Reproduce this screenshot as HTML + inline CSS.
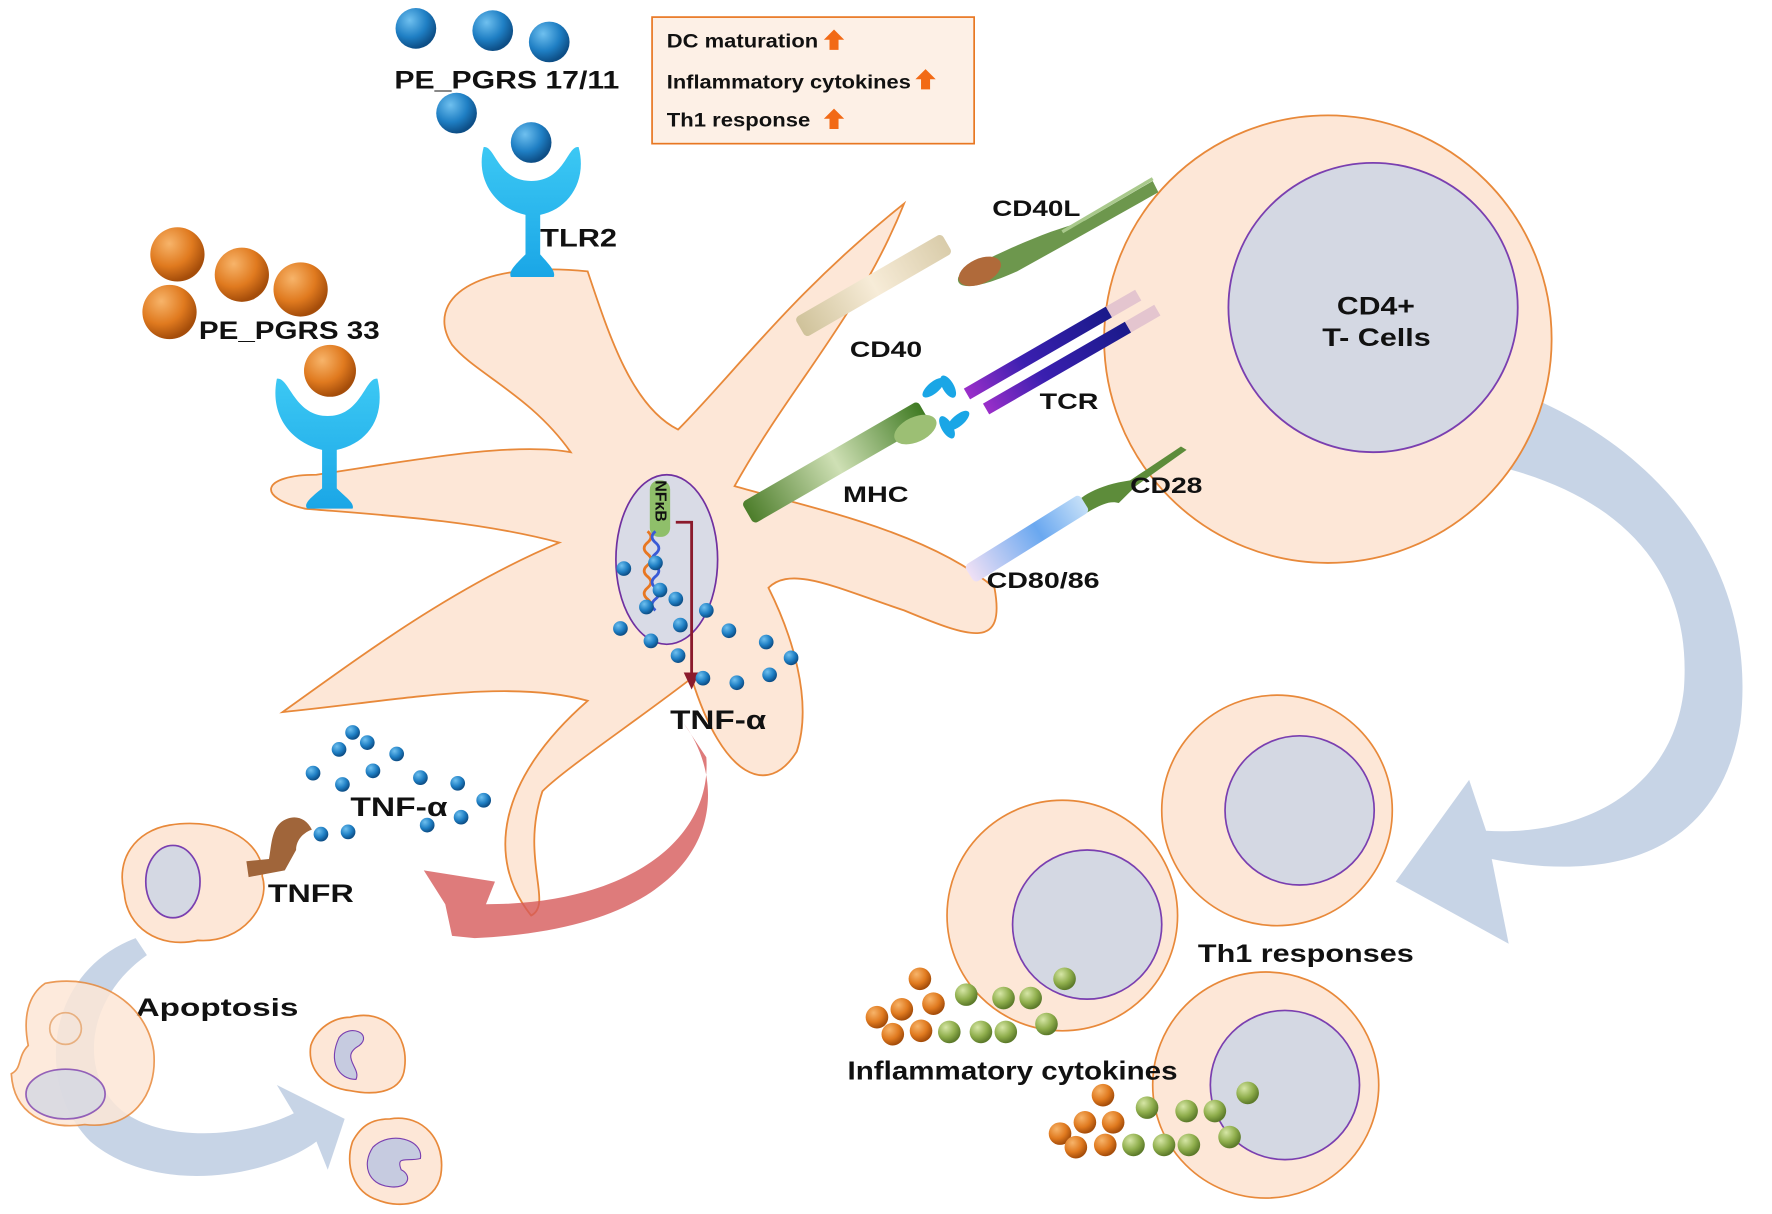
<!DOCTYPE html>
<html><head><meta charset="utf-8"><style>
html,body{margin:0;padding:0;background:#fff}
svg{display:block}
text{font-family:"Liberation Sans",sans-serif;font-weight:bold;fill:#111}
</style></head><body>
<svg width="1772" height="1214" viewBox="0 0 1568 1074" xmlns="http://www.w3.org/2000/svg">
<defs>
<radialGradient id="bb" cx="35%" cy="30%" r="70%"><stop offset="0" stop-color="#6fc0ef"/><stop offset="0.6" stop-color="#1f7fc4"/><stop offset="1" stop-color="#0d4e86"/></radialGradient>
<radialGradient id="ob" cx="35%" cy="30%" r="70%"><stop offset="0" stop-color="#f7b46a"/><stop offset="0.6" stop-color="#e07a1f"/><stop offset="1" stop-color="#a54d0a"/></radialGradient>
<radialGradient id="gb" cx="35%" cy="30%" r="70%"><stop offset="0" stop-color="#d6e6a6"/><stop offset="0.6" stop-color="#8fae4c"/><stop offset="1" stop-color="#5c7a2a"/></radialGradient>
<linearGradient id="cyan" x1="0" y1="0" x2="0" y2="1"><stop offset="0" stop-color="#3cc8f4"/><stop offset="1" stop-color="#1aa6e6"/></linearGradient>
<linearGradient id="grn" x1="0" y1="0" x2="1" y2="0"><stop offset="0" stop-color="#4c7d2a"/><stop offset="0.5" stop-color="#cfe0b5"/><stop offset="1" stop-color="#3f7a22"/></linearGradient>
<linearGradient id="cd40" x1="0" y1="0" x2="1" y2="0"><stop offset="0" stop-color="#cfc29a"/><stop offset="0.5" stop-color="#f7ecd8"/><stop offset="1" stop-color="#d9ccaa"/></linearGradient>
<linearGradient id="tcr" x1="0" y1="0" x2="1" y2="0"><stop offset="0" stop-color="#9b2fc9"/><stop offset="0.4" stop-color="#3a1fb0"/><stop offset="1" stop-color="#1a1a8a"/></linearGradient>
<linearGradient id="cd80" x1="0" y1="0" x2="1" y2="0"><stop offset="0" stop-color="#efe0f5"/><stop offset="0.6" stop-color="#6aa8f0"/><stop offset="1" stop-color="#c6e0f8"/></linearGradient>
<g id="b"><circle r="6.5" fill="url(#bb)"/></g>
</defs>

<path d="M1230,320 C1420,340 1560,470 1540,640 C1520,760 1420,780 1320,760 L1335,835 L1235,780 L1300,690 L1315,735 C1400,740 1480,700 1490,610 C1500,480 1400,410 1240,400 Z" fill="#b4c6dd" opacity="0.75"/>

<rect x="577" y="15" width="285" height="112" fill="#fdf0e6" stroke="#e87722" stroke-width="1.5"/>
<text x="590" y="42" font-size="17" textLength="134" lengthAdjust="spacingAndGlyphs">DC maturation</text>
<text x="590" y="78" font-size="17" textLength="216" lengthAdjust="spacingAndGlyphs">Inflammatory cytokines</text>
<text x="590" y="112" font-size="17" textLength="127" lengthAdjust="spacingAndGlyphs">Th1 response</text>
<g fill="#f26a16"><path d="M738,26 l9,9 h-5 v9 h-8 v-9 h-5 z"/><path d="M819,61 l9,9 h-5 v9 h-8 v-9 h-5 z"/><path d="M738,96 l9,9 h-5 v9 h-8 v-9 h-5 z"/></g>

<path d="M520,240 C540,300 560,360 600,380 C650,330 700,260 800,180 C760,280 700,340 650,430 C720,450 820,470 880,520 C890,575 860,565 800,540 C740,520 700,500 680,520 C700,560 720,620 705,665 C680,705 640,690 612,600 C560,640 500,680 480,700 C460,760 490,800 470,810 C430,760 440,690 520,620 C450,600 350,620 250,630 C320,580 400,520 495,480 C420,460 330,455 270,450 C225,440 232,420 280,420 C350,410 450,390 505,400 C470,350 420,330 400,305 C375,265 420,230 520,240 Z" fill="#fde7d7" stroke="#e8893a" stroke-width="1.6"/>

<path d="M428,130 C420,160 440,185 465,190 L465,225 C455,235 450,240 452,245 L490,245 C492,240 486,234 478,225 L478,190 C503,185 520,160 512,130 C502,128 500,160 470,160 C440,160 438,128 428,130 Z" fill="url(#cyan)"/>
<path d="M245,335 C238,370 260,392 285,398 L285,432 C275,440 268,446 272,450 L312,450 C314,445 306,440 298,432 L298,398 C325,392 342,370 334,335 C323,333 320,368 290,368 C260,368 256,333 245,335 Z" fill="url(#cyan)"/>

<circle cx="368" cy="25" r="18" fill="url(#bb)"/><circle cx="436" cy="27" r="18" fill="url(#bb)"/><circle cx="486" cy="37" r="18" fill="url(#bb)"/><circle cx="404" cy="100" r="18" fill="url(#bb)"/><circle cx="470" cy="126" r="18" fill="url(#bb)"/>
<text x="349" y="78" font-size="22" textLength="199" lengthAdjust="spacingAndGlyphs">PE_PGRS 17/11</text>
<text x="478" y="218" font-size="22" textLength="68" lengthAdjust="spacingAndGlyphs">TLR2</text>
<circle cx="157" cy="225" r="24" fill="url(#ob)"/><circle cx="214" cy="243" r="24" fill="url(#ob)"/><circle cx="266" cy="256" r="24" fill="url(#ob)"/><circle cx="150" cy="276" r="24" fill="url(#ob)"/><circle cx="292" cy="328" r="23" fill="url(#ob)"/>
<text x="176" y="300" font-size="22" textLength="160" lengthAdjust="spacingAndGlyphs">PE_PGRS 33</text>

<circle cx="1175" cy="300" r="198" fill="#fde7d7" stroke="#e8893a" stroke-width="1.6"/>
<circle cx="1215" cy="272" r="128" fill="#d4d8e3" stroke="#7a3fb0" stroke-width="1.6"/>
<text x="1183" y="278" font-size="22" textLength="69" lengthAdjust="spacingAndGlyphs">CD4+</text>
<text x="1170" y="306" font-size="22" textLength="96" lengthAdjust="spacingAndGlyphs">T- Cells</text>

<g transform="rotate(-30 760 260)"><rect x="700" y="250" width="150" height="20" rx="4" fill="url(#cd40)"/></g>
<path d="M1020,160 L960,195 L930,205 C890,220 860,235 848,245 C845,255 860,258 900,240 L945,215 L1025,170 Z" fill="#5d8c3a" opacity="0.9"/>
<path d="M1020,158 L940,205" stroke="#a9c98c" stroke-width="3"/>
<ellipse cx="867" cy="240" rx="20" ry="11" fill="#b06a3a" transform="rotate(-25 867 240)"/>
<text x="878" y="191" font-size="20" textLength="78" lengthAdjust="spacingAndGlyphs">CD40L</text>
<text x="752" y="316" font-size="20" textLength="64" lengthAdjust="spacingAndGlyphs">CD40</text>

<g transform="rotate(-30 920 320)"><rect x="850" y="307" width="145" height="11" fill="url(#tcr)"/><rect x="858" y="327" width="145" height="11" fill="url(#tcr)"/><rect x="995" y="307" width="30" height="11" fill="#d9b7cc" opacity="0.7"/><rect x="1003" y="327" width="30" height="11" fill="#d9b7cc" opacity="0.7"/></g>
<g fill="#1aa6e6"><ellipse cx="826" cy="343" rx="12" ry="5" transform="rotate(-40 826 343)"/><ellipse cx="839" cy="342" rx="11" ry="5" transform="rotate(60 839 342)"/><ellipse cx="848" cy="372" rx="12" ry="5" transform="rotate(-40 848 372)"/><ellipse cx="838" cy="378" rx="11" ry="5" transform="rotate(60 838 378)"/></g>
<text x="920" y="362" font-size="20" textLength="52" lengthAdjust="spacingAndGlyphs">TCR</text>

<g transform="rotate(-30 740 410)"><rect x="650" y="398" width="180" height="22" rx="4" fill="url(#grn)"/></g>
<ellipse cx="810" cy="380" rx="20" ry="11" fill="#9cbf74" transform="rotate(-25 810 380)"/>
<text x="746" y="444" font-size="20" textLength="58" lengthAdjust="spacingAndGlyphs">MHC</text>

<path d="M1045,395 L1000,425 C965,430 945,445 948,458 C955,462 975,440 990,445 L1005,430 L1050,398 Z" fill="#5d8c3a"/>
<g transform="rotate(-32 905 480)"><rect x="850" y="470" width="120" height="18" rx="4" fill="url(#cd80)"/></g>
<text x="1000" y="436" font-size="20" textLength="64" lengthAdjust="spacingAndGlyphs">CD28</text>
<text x="873" y="520" font-size="20" textLength="100" lengthAdjust="spacingAndGlyphs">CD80/86</text>

<ellipse cx="590" cy="495" rx="45" ry="75" fill="#d9dbe6" stroke="#7030a0" stroke-width="1.5"/>
<rect x="575" y="425" width="18" height="50" rx="8" fill="#8fbf6a"/>
<text x="580" y="425" font-size="14" transform="rotate(90 580 425)">NFκB</text>
<path d="M573,470 q6,5 0,10 q-6,5 0,10 q6,5 0,10 q-6,5 0,10 q6,5 0,10 q-6,5 0,10 q6,5 0,10" stroke="#e87722" stroke-width="2.5" fill="none"/>
<path d="M580,470 q-6,5 0,10 q6,5 0,10 q-6,5 0,10 q6,5 0,10 q-6,5 0,10 q6,5 0,10 q-6,5 0,10" stroke="#3a5ad6" stroke-width="2.5" fill="none"/>
<path d="M598,462 H612 V600" stroke="#8b1a2c" stroke-width="2.5" fill="none"/>
<path d="M605,595 L612,610 L619,595 Z" fill="#8b1a2c"/>

<g>
<use href="#b" x="552" y="503"/><use href="#b" x="580" y="498"/><use href="#b" x="584" y="522"/><use href="#b" x="572" y="537"/><use href="#b" x="598" y="530"/><use href="#b" x="625" y="540"/><use href="#b" x="549" y="556"/><use href="#b" x="576" y="567"/><use href="#b" x="602" y="553"/><use href="#b" x="600" y="580"/><use href="#b" x="645" y="558"/><use href="#b" x="678" y="568"/><use href="#b" x="700" y="582"/><use href="#b" x="622" y="600"/><use href="#b" x="652" y="604"/><use href="#b" x="681" y="597"/>
<use href="#b" x="312" y="648"/><use href="#b" x="300" y="663"/><use href="#b" x="325" y="657"/><use href="#b" x="351" y="667"/><use href="#b" x="277" y="684"/><use href="#b" x="330" y="682"/><use href="#b" x="372" y="688"/><use href="#b" x="303" y="694"/><use href="#b" x="405" y="693"/><use href="#b" x="428" y="708"/><use href="#b" x="378" y="730"/><use href="#b" x="408" y="723"/><use href="#b" x="284" y="738"/><use href="#b" x="308" y="736"/>
</g>
<text x="593" y="645" font-size="24" textLength="85" lengthAdjust="spacingAndGlyphs">TNF-α</text>
<text x="310" y="722" font-size="24" textLength="86" lengthAdjust="spacingAndGlyphs">TNF-α</text>

<path d="M605,640 C650,700 640,820 420,830 L400,828 L394,800 L375,770 L438,780 L430,800 C560,800 630,740 625,670 Z" fill="#d65a5a" opacity="0.8"/>

<path d="M150,730 C200,722 235,748 232,775 C240,800 215,835 175,832 C140,840 112,820 110,790 C102,760 120,735 150,730 Z" fill="#fde7d7" stroke="#e8893a" stroke-width="1.5"/>
<ellipse cx="153" cy="780" rx="24" ry="32" fill="#d4d8e3" stroke="#7a3fb0" stroke-width="1.5"/>
<path d="M218,762 L238,760 C240,750 240,735 248,728 C258,720 270,722 276,734 C270,736 262,742 262,752 L252,770 L220,776 Z" fill="#a0653a"/>
<text x="237" y="798" font-size="22" textLength="76" lengthAdjust="spacingAndGlyphs">TNFR</text>

<path d="M120,830 C40,860 30,960 80,1010 C140,1060 240,1040 280,1010 L290,1035 L305,990 L245,960 L260,985 C210,1010 130,1010 100,975 C70,940 80,880 130,845 Z" fill="#b4c6dd" opacity="0.75"/>
<text x="120" y="899" font-size="22" textLength="144" lengthAdjust="spacingAndGlyphs">Apoptosis</text>
<path d="M40,870 C90,860 130,890 136,930 C140,970 115,1000 75,995 C40,1000 12,985 10,950 C20,945 15,935 25,925 C20,900 25,880 40,870 Z" fill="#fde7d7" stroke="#e8893a" stroke-width="1.5" opacity="0.85"/>
<ellipse cx="58" cy="968" rx="35" ry="22" fill="#d4d8e3" stroke="#7a3fb0" stroke-width="1.5" opacity="0.8"/>
<circle cx="58" cy="910" r="14" fill="none" stroke="#e8b080" stroke-width="1.5"/>
<path d="M310,900 C340,892 362,915 358,945 C356,965 335,970 310,965 C285,962 272,945 275,925 C280,910 295,900 310,900 Z" fill="#fde7d7" stroke="#e8893a" stroke-width="1.5"/>
<path d="M300,918 C310,905 330,915 318,925 C300,935 320,945 315,955 C300,955 290,940 300,918 Z" fill="#c6cbe0" stroke="#7a3fb0"/>
<path d="M345,990 C375,985 395,1010 390,1040 C385,1065 355,1070 335,1062 C312,1055 305,1030 312,1010 C320,995 330,990 345,990 Z" fill="#fde7d7" stroke="#e8893a" stroke-width="1.5"/>
<path d="M330,1015 C345,1000 375,1008 372,1025 C360,1028 350,1022 355,1035 C365,1040 362,1052 345,1050 C325,1048 320,1030 330,1015 Z" fill="#c6cbe0" stroke="#7a3fb0"/>

<circle cx="1130" cy="717" r="102" fill="#fde7d7" stroke="#e8893a" stroke-width="1.5"/>
<circle cx="1150" cy="717" r="66" fill="#d4d8e3" stroke="#7a3fb0" stroke-width="1.5"/>
<circle cx="940" cy="810" r="102" fill="#fde7d7" stroke="#e8893a" stroke-width="1.5"/>
<circle cx="962" cy="818" r="66" fill="#d4d8e3" stroke="#7a3fb0" stroke-width="1.5"/>
<circle cx="1120" cy="960" r="100" fill="#fde7d7" stroke="#e8893a" stroke-width="1.5"/>
<circle cx="1137" cy="960" r="66" fill="#d4d8e3" stroke="#7a3fb0" stroke-width="1.5"/>
<text x="1060" y="851" font-size="22" textLength="191" lengthAdjust="spacingAndGlyphs">Th1 responses</text>
<text x="750" y="955" font-size="23" font-weight="normal" textLength="292" lengthAdjust="spacingAndGlyphs">Inflammatory cytokines</text>

<g>
<circle cx="814" cy="866" r="10" fill="url(#ob)"/><circle cx="798" cy="893" r="10" fill="url(#ob)"/><circle cx="826" cy="888" r="10" fill="url(#ob)"/><circle cx="776" cy="900" r="10" fill="url(#ob)"/><circle cx="790" cy="915" r="10" fill="url(#ob)"/><circle cx="815" cy="912" r="10" fill="url(#ob)"/>
<circle cx="855" cy="880" r="10" fill="url(#gb)"/><circle cx="840" cy="913" r="10" fill="url(#gb)"/><circle cx="888" cy="883" r="10" fill="url(#gb)"/><circle cx="912" cy="883" r="10" fill="url(#gb)"/><circle cx="942" cy="866" r="10" fill="url(#gb)"/><circle cx="868" cy="913" r="10" fill="url(#gb)"/><circle cx="890" cy="913" r="10" fill="url(#gb)"/><circle cx="926" cy="906" r="10" fill="url(#gb)"/>
<circle cx="976" cy="969" r="10" fill="url(#ob)"/><circle cx="960" cy="993" r="10" fill="url(#ob)"/><circle cx="985" cy="993" r="10" fill="url(#ob)"/><circle cx="938" cy="1003" r="10" fill="url(#ob)"/><circle cx="952" cy="1015" r="10" fill="url(#ob)"/><circle cx="978" cy="1013" r="10" fill="url(#ob)"/>
<circle cx="1015" cy="980" r="10" fill="url(#gb)"/><circle cx="1050" cy="983" r="10" fill="url(#gb)"/><circle cx="1075" cy="983" r="10" fill="url(#gb)"/><circle cx="1104" cy="967" r="10" fill="url(#gb)"/><circle cx="1003" cy="1013" r="10" fill="url(#gb)"/><circle cx="1030" cy="1013" r="10" fill="url(#gb)"/><circle cx="1052" cy="1013" r="10" fill="url(#gb)"/><circle cx="1088" cy="1006" r="10" fill="url(#gb)"/>
</g>
</svg>
</body></html>
